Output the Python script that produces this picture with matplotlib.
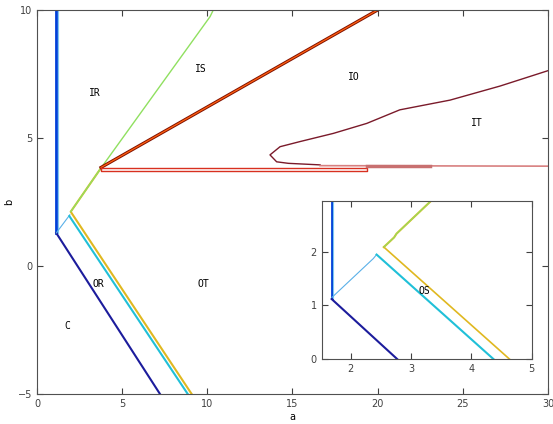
import matplotlib.pyplot as plt

# ---- main panel curves (a, b) ----
blue_a = [1.13, 1.13]
blue_b = [10.0, 1.29]

navy_a = [1.13, 7.22]
navy_b = [1.29, -5.0]

cyan_thin_a = [1.13, 1.93]
cyan_thin_b = [1.29, 2.00]
cyan_a = [1.90, 8.85]
cyan_b = [1.95, -5.0]

yellow_a = [3.76, 1.98, 9.08]
yellow_b = [3.83, 2.12, -5.0]

green_a = [1.98, 3.76, 10.16, 10.35]
green_b = [2.12, 3.83, 9.74, 10.0]

orange_a = [3.76, 20.0]
orange_b = [3.85, 10.0]

red_box_a = [3.76, 19.4, 19.4, 3.76, 3.76]
red_box_b = [3.81, 3.81, 3.72, 3.72, 3.81]

maroon_a = [30.0, 27.19, 24.25, 21.3, 19.36, 17.4, 15.44, 14.27, 13.68, 14.07, 14.76, 16.62]
maroon_b = [7.63, 7.03, 6.48, 6.10, 5.57, 5.18, 4.86, 4.66, 4.34, 4.07, 4.01, 3.95]

pink_a = [16.62, 30.0]
pink_b = [3.92, 3.90]
pink_thick_a = [19.4, 23.1]
pink_thick_b = [3.91, 3.91]

labels = ["IR", "IS", "IO", "IT", "OR", "OT", "C"]
label_a = [3.4, 9.6, 18.6, 25.8, 3.6, 9.75, 1.76]
label_b = [6.75, 7.7, 7.4, 5.6, -0.7, -0.7, -2.34]

# ---- inset curves ----
in_blue_a = [1.685, 1.685]
in_blue_b = [2.95, 1.13]
in_navy_a = [1.685, 2.77]
in_navy_b = [1.12, 0.0]
in_cthin_a = [1.69, 2.375, 2.43]
in_cthin_b = [1.15, 1.875, 1.95]
in_cyan_a = [2.43, 4.365]
in_cyan_b = [1.95, 0.0]
in_yellow_a = [2.55, 4.63]
in_yellow_b = [2.09, 0.0]
in_green_a = [2.55, 2.72, 2.76, 3.33]
in_green_b = [2.09, 2.27, 2.34, 2.95]

fig = plt.figure(figsize=(5.53, 4.24), dpi=100)
ax = fig.add_axes([0.0669, 0.0708, 0.924, 0.9056])

ax.plot(blue_a, blue_b, color="#0040d8", lw=2.0)
ax.plot([x + 0.12 for x in blue_a], blue_b, color="#7ec8f0", lw=0.8)
ax.plot(navy_a, navy_b, color="#1c1c9c", lw=1.5)
ax.plot(cyan_thin_a, cyan_thin_b, color="#5ab0e8", lw=0.8)
ax.plot(cyan_a, cyan_b, color="#20c0d8", lw=1.5)
ax.plot(yellow_a, yellow_b, color="#e0b820", lw=1.5)
ax.plot(green_a, green_b, color="#90e060", lw=1.0)
ax.plot(orange_a, orange_b, color="#801000", lw=2.3)
ax.plot(orange_a, orange_b, color="#ff6010", lw=0.9)
ax.plot(red_box_a, red_box_b, color="#d83020", lw=1.0)
ax.plot(maroon_a, maroon_b, color="#7a1a2a", lw=1.0)
ax.plot(pink_a, pink_b, color="#d88080", lw=1.2)
ax.plot(pink_thick_a, pink_thick_b, color="#c87070", lw=2.5)

for t, x, y in zip(labels, label_a, label_b):
    ax.text(x, y, t, fontsize=7, ha="center", va="center", family="DejaVu Sans Mono")

ax.set_xlim(0, 30)
ax.set_ylim(-5, 10)
ax.set_xticks([0, 5, 10, 15, 20, 25, 30])
ax.set_yticks([-5, 0, 5, 10])
ax.tick_params(direction="in", top=True, right=True, labelsize=7, colors="#404040", length=4)
ax.set_xlabel("a", fontsize=7, labelpad=2)
ax.set_ylabel("b", fontsize=7)
ax.yaxis.set_label_coords(-0.045, 0.5)
for s in ax.spines.values():
    s.set_color("#505050")

# inset
ins = fig.add_axes([0.5817, 0.1533, 0.3798, 0.3726])
ins.plot(in_blue_a, in_blue_b, color="#0040d8", lw=2.0)
ins.plot([x + 0.02 for x in in_blue_a], in_blue_b, color="#7ec8f0", lw=0.8)
ins.plot(in_navy_a, in_navy_b, color="#1c1c9c", lw=1.5)
ins.plot(in_cthin_a, in_cthin_b, color="#5ab0e8", lw=0.8)
ins.plot(in_cyan_a, in_cyan_b, color="#20c0d8", lw=1.5)
ins.plot(in_yellow_a, in_yellow_b, color="#e0b820", lw=1.2)
ins.plot(in_green_a, in_green_b, color="#e0b820", lw=1.5)
ins.plot(in_green_a, in_green_b, color="#90e060", lw=0.8)
ins.text(3.22, 1.27, "OS", fontsize=7, ha="center", va="center", family="DejaVu Sans Mono")
ins.set_xlim(1.52, 5)
ins.set_ylim(0, 2.95)
ins.set_xticks([2, 3, 4, 5])
ins.set_yticks([0, 1, 2])
ins.tick_params(direction="in", top=True, right=True, labelsize=7, colors="#404040", length=4)
for s in ins.spines.values():
    s.set_color("#505050")

fig.savefig("out.png", dpi=100)
